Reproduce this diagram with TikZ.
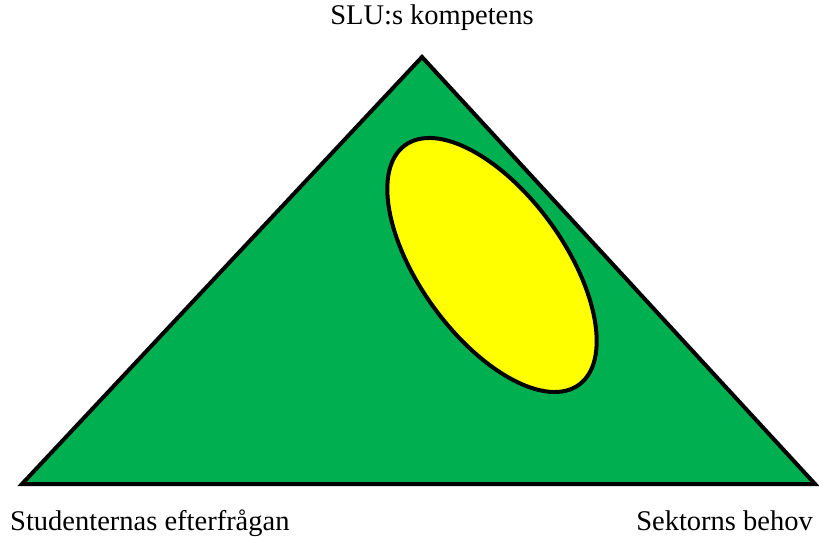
\documentclass[tikz,border=0pt]{standalone}
\usepackage{fontspec}
\setmainfont{Liberation Serif}
\definecolor{FieldGreen}{RGB}{0,176,80}
\definecolor{CoreYellow}{RGB}{255,255,0}
\usetikzlibrary{positioning}

\begin{document}
\begin{tikzpicture}[x=1pt, y=1pt,
  field/.style={draw=black, fill=FieldGreen, line width=4pt, line join=miter},
  core/.style={draw=black, fill=CoreYellow, line width=4pt},
  corner/.style={font=\fontsize{28.5}{32}\selectfont, inner sep=0pt}]
\useasboundingbox (0,0) rectangle (819,536);
% triangle corners
\coordinate (top) at (422,479);
\coordinate (left) at (22,52);
\coordinate (right) at (815,52);
\draw[field] (top) -- (right) -- (left) -- cycle;
% overlap
\coordinate (mid) at (492,271);
\draw[core] (mid) ellipse [x radius=148, y radius=72, rotate=-54];
% labels
\node[corner, anchor=base] (slu) at (432,511) {SLU:s kompetens};
\node[corner, anchor=base west] (stud) at (10,6) {Studenternas efterfrågan};
\node[corner, anchor=base east] (sekt) at (813,6) {Sektorns behov};
\end{tikzpicture}
\end{document}
